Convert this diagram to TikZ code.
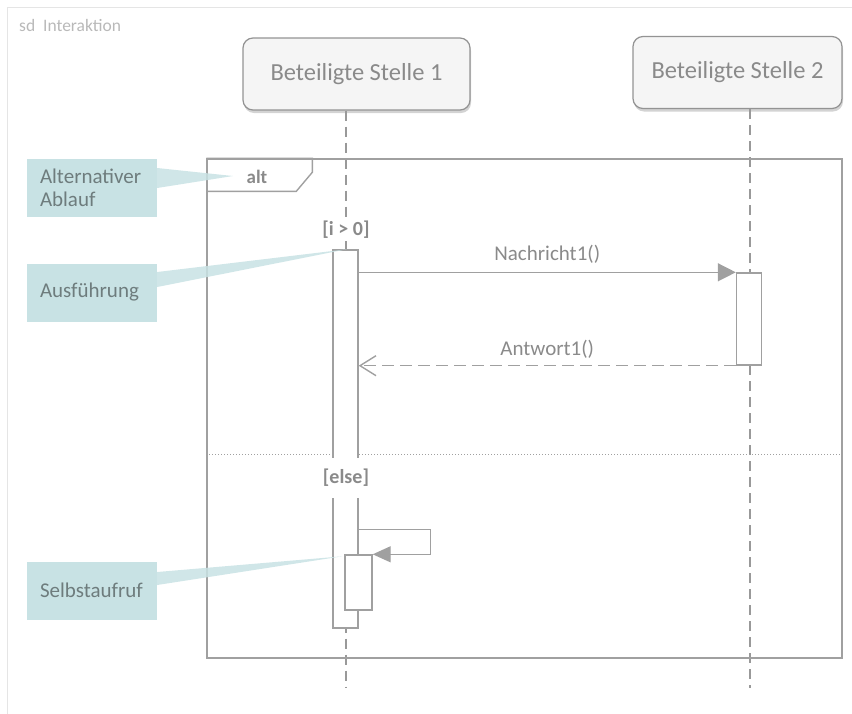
\documentclass[tikz,border=0pt]{standalone}
\usepackage{fontspec}
\setmainfont{Carlito}
\usetikzlibrary{arrows.meta,shadows}

\definecolor{linegray}{HTML}{A0A0A0}
\definecolor{textgray}{HTML}{8A8A8A}
\definecolor{notefill}{HTML}{C8E2E4}
\definecolor{notetext}{HTML}{6E7C7D}

\begin{document}
\begin{tikzpicture}[x=1pt,y=-1pt,
        party/.style={draw=gray!85,fill=gray!8,rounded corners=10pt,line width=1.2pt,
            minimum height=72pt,text=textgray,
            font=\fontsize{24.5}{28}\selectfont,
            drop shadow={shadow xshift=1pt,shadow yshift=-3pt,opacity=0.35}},
        lifeline/.style={draw=gray!80,line width=1.3pt,dash pattern=on 10pt off 6pt},
        act/.style={draw=linegray,fill=white,line width=1.4pt,inner sep=0pt,minimum width=25pt},
        msg/.style={draw=linegray,line width=1.4pt},
        guard/.style={fill=white,text=textgray,inner sep=2pt,
            font=\bfseries\fontsize{20}{23}\selectfont},
        msglabel/.style={text=textgray,font=\fontsize{21}{24}\selectfont},
        note/.style={fill=notefill,text=notetext,text width=104pt,align=left,
            minimum height=58pt,inner xsep=13pt,font=\fontsize{21}{23.5}\selectfont}]

\useasboundingbox (0,0) rectangle (852,713);
\draw[gray!20,line width=1pt] (7,720) |- (860,7);
\node[anchor=west,inner sep=0pt,text=gray!55,font=\fontsize{17.5}{20}\selectfont] (title) at (19,25) {sd\ \ Interaktion};

% participants and lifelines
\node[party,minimum width=227pt] (p1) at (356.5,74) {Beteiligte Stelle 1};
\node[party,minimum width=209pt] (p2) at (737.5,72.5) {Beteiligte Stelle 2};
\coordinate (end1) at (346,688);
\coordinate (end2) at (750,688);
\draw[lifeline] (end1 |- p1.south) -- (end1);
\draw[lifeline] (end2 |- p2.south) -- (end2);

% combined fragment
\node[draw=linegray,line width=1.4pt,minimum width=635pt,minimum height=499pt,inner sep=0pt] (alt) at (524.5,408.5) {};
\draw[linegray,line width=1.4pt] (alt.north west) -- ++(106,0) -- ++(0,14) -- ++(-16,19) -- ++(-90,0);
\node[text=textgray,font=\bfseries\fontsize{19}{22}\selectfont] (alttag) at (257,177) {alt};
\draw[linegray,line width=1pt,dotted] (alt.west |- 0,454) -- (alt.east |- 0,454);

% notes
\node[note] (n1) at (92,188) {Alternativer\\Ablauf};
\node[note] (n2) at (92,292.5) {Ausführung};
\node[note] (n3) at (92,590.5) {Selbstaufruf};
\coordinate (tip1) at (233,176);
\fill[notefill,opacity=0.85] ([yshift=20pt]n1.east) -- (tip1) -- (n1.east) -- cycle;

% activations
\node[act,minimum height=378pt] (act1) at (345.5,439) {};
\node[act,minimum height=92pt] (act2) at (749,319) {};
\node[act,minimum width=27pt,minimum height=55pt] (act3) at (358.5,582.5) {};
\fill[notefill,opacity=0.85] ([yshift=20.5pt]n2.east) -- ([xshift=1pt]act1.north) -- ([yshift=5.5pt]n2.east) -- cycle;
\fill[notefill,opacity=0.85] ([yshift=18.5pt]n3.east) -- ([xshift=-2pt,yshift=-2pt]act3.north west) -- ([yshift=5.5pt]n3.east) -- cycle;

% messages
\draw[msg,-{Triangle[length=18pt,width=18pt]}] (act1.east |- act2.north) -- (act2.north west)
    node[midway,above=5pt,msglabel] (m1) {Nachricht1()};
\draw[msg,dashed,dash pattern=on 12pt off 6pt,-{Straight Barb[length=16pt,width=20pt]}] (act2.south west) -- (act1.east |- act2.south)
    node[midway,above=3pt,msglabel] (m2) {Antwort1()};
\draw[msg,-{Triangle[length=18pt,width=16pt]}] ([yshift=25pt]act3.north -| act1.east) -- ++(72,0) |- (act3.north east);

% guards
\node[guard] (g1) at (346,230) {[i > 0]};
\node[guard,minimum height=40pt] (g2) at (346,478) {[else]};
\end{tikzpicture}
\end{document}
